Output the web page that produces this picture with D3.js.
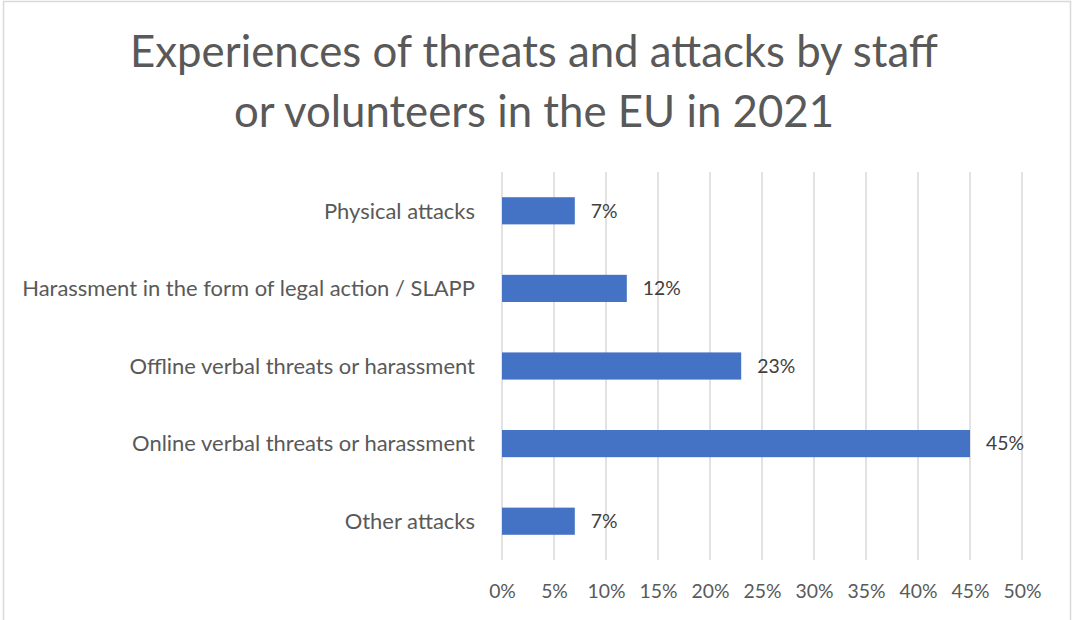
<!DOCTYPE html>
<html>
<head>
<meta charset="utf-8">
<script src="https://cdn.jsdelivr.net/npm/d3@7"></script>
<style>
  html, body { margin: 0; padding: 0; background: #fff; }
  svg { display: block; }
  text { font-family: Lato, "Open Sans", sans-serif; }
</style>
</head>
<body>
<svg id="chart" width="1072" height="620"></svg>
<script>
// Share of respondents reporting each kind of threat or attack
const categories = [
  "Physical attacks",
  "Harassment in the form of legal action / SLAPP",
  "Offline verbal threats or harassment",
  "Online verbal threats or harassment",
  "Other attacks"
];
const values = [7, 12, 23, 45, 7];
const tickValues = [0, 5, 10, 15, 20, 25, 30, 35, 40, 45, 50];
const titleLines = [
  "Experiences of threats and attacks by staff",
  "or volunteers in the EU in 2021"
];

const W = 1072, H = 620;
const margin = { top: 172, right: 50, bottom: 60, left: 502 };
const svg = d3.select("#chart");

// Chart frame
svg.append("rect")
  .attr("x", 3.5).attr("y", 1.5)
  .attr("width", W - 5).attr("height", H + 10)
  .attr("fill", "#fff").attr("stroke", "#d9d9d9").attr("stroke-width", 1.5);

// Pick a font size that makes a string span a given width
function fitSize(str, width, weight) {
  const t = svg.append("text").attr("font-size", 100).attr("font-weight", weight || 400).text(str);
  const w = t.node().getComputedTextLength();
  t.remove();
  return 100 * width / w;
}

const x = d3.scaleLinear().domain([0, 50]).range([margin.left, W - margin.right]);
const y = d3.scaleBand().domain(categories).range([margin.top, H - margin.bottom]).paddingInner(0.65).paddingOuter(0.325);

// Title
const titleSize = fitSize(titleLines[0], 808);
svg.append("g").selectAll("text").data(titleLines).join("text")
  .attr("x", 534)
  .attr("y", (d, i) => 67 + i * 60)
  .attr("text-anchor", "middle")
  .attr("font-size", titleSize)
  .attr("fill", "#595959")
  .text(d => d);

// Vertical gridlines
svg.append("g").selectAll("line").data(tickValues).join("line")
  .attr("x1", d => x(d)).attr("x2", d => x(d))
  .attr("y1", margin.top).attr("y2", H - margin.bottom)
  .attr("stroke", "#d9d9d9").attr("stroke-width", 1.5);

// X axis tick labels
const tickSize = fitSize("10%", 38);
const xAxis = d3.axisBottom(x).tickValues(tickValues).tickFormat(d => d + "%").tickSize(0).tickPadding(0);
const axG = svg.append("g").attr("transform", `translate(0,${H - margin.bottom})`).call(xAxis);
axG.select(".domain").remove();
axG.selectAll("text")
  .attr("y", 38).attr("dy", 0)
  .attr("font-size", tickSize)
  .attr("font-family", "Lato, 'Open Sans', sans-serif")
  .attr("fill", "#595959");

// Category labels
const labelSize = fitSize(categories[1], 453);
const yAxis = d3.axisLeft(y).tickSize(0).tickPadding(0);
const ayG = svg.append("g").attr("transform", `translate(${margin.left - 27},0)`).call(yAxis);
ayG.select(".domain").remove();
ayG.selectAll("text")
  .attr("dy", "0.35em")
  .attr("font-size", labelSize)
  .attr("font-family", "Lato, 'Open Sans', sans-serif")
  .attr("fill", "#595959");

// Bars
svg.append("g").selectAll("rect").data(values).join("rect")
  .attr("x", x(0))
  .attr("y", (d, i) => y(categories[i]))
  .attr("width", d => x(d) - x(0))
  .attr("height", y.bandwidth())
  .attr("fill", "#4472c4");

// Value labels
svg.append("g").selectAll("text").data(values).join("text")
  .attr("x", d => x(d) + 16)
  .attr("y", (d, i) => y(categories[i]) + y.bandwidth() / 2)
  .attr("dy", "0.35em")
  .attr("font-size", tickSize)
  .attr("fill", "#404040")
  .text(d => d + "%");
</script>
</body>
</html>
